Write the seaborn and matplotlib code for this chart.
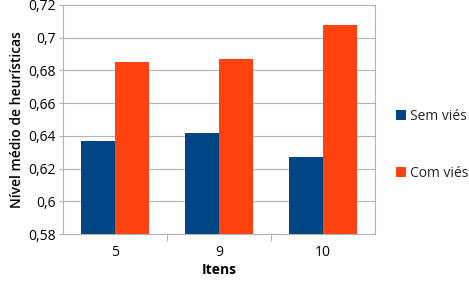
import matplotlib
matplotlib.use("Agg")
import matplotlib.pyplot as plt
import seaborn as sns
import pandas as pd
from matplotlib.ticker import FixedLocator, FuncFormatter
from matplotlib.patches import Patch

categories = ["5", "9", "10"]
sem_vies = [0.637, 0.642, 0.627]
com_vies = [0.685, 0.687, 0.708]
series_names = ["Sem viés", "Com viés"]
colors = ["#004586", "#ff420e"]
y_ticks = [0.58, 0.60, 0.62, 0.64, 0.66, 0.68, 0.70, 0.72]

df = pd.DataFrame({
    "Itens": categories * 2,
    "valor": sem_vies + com_vies,
    "serie": [series_names[0]] * 3 + [series_names[1]] * 3,
})

sns.set_theme(style="white")
plt.rcParams["font.family"] = ["Open Sans", "DejaVu Sans"]

fig = plt.figure(figsize=(4.69, 2.81), dpi=100)
ax = fig.add_axes([63/469, 1-234/281, (375-63)/469, (234-5)/281])

sns.barplot(data=df, x="Itens", y="valor", hue="serie", order=categories,
            hue_order=series_names, palette=colors, width=0.66, saturation=1,
            edgecolor="none", linewidth=0, ax=ax, legend=False)

ax.set_ylim(0.58, 0.72)
ax.set_xlim(-0.5, 2.5)
ax.yaxis.set_major_locator(FixedLocator(y_ticks))
def fmt(v, pos):
    s = f"{v:.2f}".rstrip("0").rstrip(".")
    return s.replace(".", ",")
ax.yaxis.set_major_formatter(FuncFormatter(fmt))
ax.grid(axis="y", color="#b3b3b3", linewidth=0.8)
ax.set_axisbelow(True)
for s in ax.spines.values():
    s.set_color("#b3b3b3")
    s.set_linewidth(0.8)

ax.tick_params(axis="y", length=3, width=0.8, color="#b3b3b3", labelsize=10, pad=2, left=True, labelcolor="black")
ax.tick_params(axis="x", which="major", length=0, labelsize=10, pad=8, labelcolor="black")
ax.set_xticks([0.5, 1.5], minor=True)
ax.tick_params(axis="x", which="minor", length=5, width=0.8, color="#b3b3b3", bottom=True)

ax.set_xlabel("Itens", fontsize=10, fontweight="bold", labelpad=2, color="black")
ax.set_ylabel("Nível médio de heurísticas", fontsize=10, fontweight="semibold", labelpad=3, color="black")

handles = [Patch(facecolor=c, edgecolor="none") for c in colors]
fig.legend(handles, series_names, loc="center left", bbox_to_anchor=(396/469, 1-145/281),
           frameon=False, fontsize=10, handlelength=0.75, handleheight=0.75,
           handletextpad=0.25, labelspacing=3.0, borderpad=0, borderaxespad=0)

fig.savefig("out.png", dpi=100)
